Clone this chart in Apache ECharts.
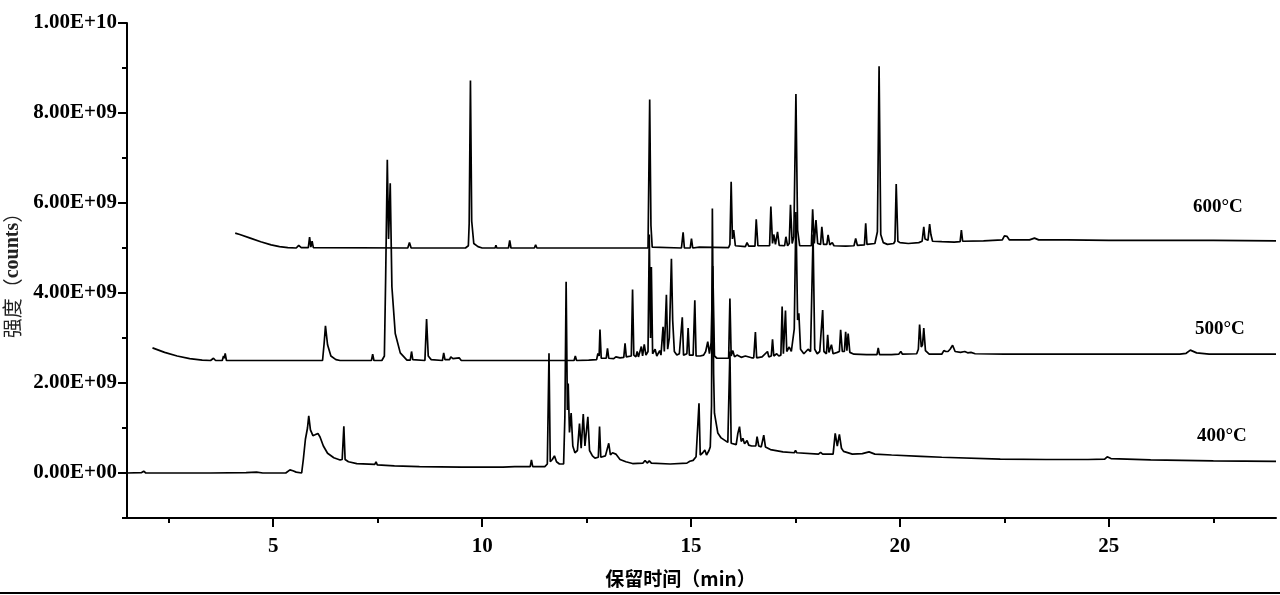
<!DOCTYPE html>
<html>
<head>
<meta charset="utf-8">
<title>GC-MS chromatogram</title>
<script src="https://cdn.jsdelivr.net/npm/echarts@6/dist/echarts.min.js"></script>
<style>
  html, body { margin: 0; padding: 0; background: #fff; }
  #chart { width: 1280px; height: 595px; }
</style>
</head>
<body>
<div id="chart"></div>
<script>
// retention time (min), intensity (counts)
const trace600 = [
  [4.09, 5.33e9], [4.2, 5.30e9], [4.45, 5.22e9], [4.7, 5.14e9], [4.95, 5.07e9], [5.15, 5.03e9],
  [5.35, 5.01e9], [5.55, 5.00e9], [5.61, 5.06e9], [5.67, 5.01e9], [5.84, 5.01e9], [5.87, 5.24e9],
  [5.9, 5.02e9], [5.93, 5.15e9], [5.96, 5.01e9], [8.22, 5.0e9], [8.26, 5.12e9], [8.3, 5.0e9],
  [9.6, 5.0e9], [9.67, 5.05e9], [9.69, 5.55e9], [9.72, 8.72e9], [9.75, 5.6e9], [9.8, 5.1e9],
  [9.9, 5.03e9], [10.0, 5.0e9], [10.31, 5.0e9], [10.33, 5.06e9], [10.35, 5.0e9], [10.63, 5.0e9],
  [10.66, 5.17e9], [10.69, 5.0e9], [11.25, 5.0e9], [11.28, 5.07e9], [11.31, 5.0e9], [13.97, 5.0e9],
  [14.01, 8.30e9], [14.04, 5.5e9], [14.07, 5.02e9], [14.77, 5.0e9], [14.81, 5.35e9], [14.84, 5.0e9],
  [14.98, 5.0e9], [15.01, 5.21e9], [15.04, 5.0e9], [15.2, 5.02e9], [15.9, 5.01e9], [15.93, 5.08e9],
  [15.96, 6.47e9], [15.99, 5.2e9], [16.02, 5.4e9], [16.06, 5.05e9], [16.3, 5.03e9], [16.34, 5.12e9],
  [16.38, 5.04e9], [16.53, 5.04e9], [16.56, 5.64e9], [16.6, 5.05e9], [16.88, 5.05e9], [16.91, 5.92e9],
  [16.95, 5.1e9], [16.98, 5.3e9], [17.02, 5.08e9], [17.07, 5.36e9], [17.11, 5.06e9], [17.24, 5.05e9],
  [17.27, 5.25e9], [17.31, 5.05e9], [17.35, 5.1e9], [17.38, 5.96e9], [17.42, 5.1e9], [17.46, 5.25e9],
  [17.51, 8.42e9], [17.55, 5.4e9], [17.6, 5.05e9], [17.88, 5.05e9], [17.91, 5.86e9], [17.95, 5.1e9],
  [17.99, 5.62e9], [18.03, 5.1e9], [18.1, 5.08e9], [18.13, 5.47e9], [18.17, 5.08e9], [18.25, 5.08e9],
  [18.28, 5.29e9], [18.32, 5.07e9], [18.38, 5.12e9], [18.42, 5.05e9], [18.7, 5.04e9], [18.9, 5.05e9],
  [18.94, 5.21e9], [18.98, 5.06e9], [19.15, 5.07e9], [19.18, 5.55e9], [19.21, 5.08e9], [19.4, 5.1e9],
  [19.46, 5.36e9], [19.5, 9.04e9], [19.54, 5.3e9], [19.6, 5.12e9], [19.7, 5.08e9], [19.85, 5.1e9],
  [19.88, 5.15e9], [19.91, 6.42e9], [19.95, 5.15e9], [20.0, 5.12e9], [20.2, 5.1e9], [20.45, 5.12e9],
  [20.53, 5.15e9], [20.57, 5.47e9], [20.6, 5.2e9], [20.67, 5.17e9], [20.71, 5.53e9], [20.74, 5.3e9],
  [20.78, 5.15e9], [21.0, 5.14e9], [21.3, 5.13e9], [21.44, 5.14e9], [21.47, 5.4e9], [21.5, 5.15e9],
  [22.0, 5.16e9], [22.45, 5.18e9], [22.5, 5.27e9], [22.56, 5.26e9], [22.62, 5.18e9], [23.1, 5.18e9],
  [23.22, 5.22e9], [23.32, 5.18e9], [24.0, 5.18e9], [25.0, 5.17e9], [27.5, 5.17e9], [27.52, 5.19e9],
  [27.54, 5.17e9], [29.0, 5.16e9]
]

const trace500 = [
  [2.11, 2.78e9], [2.4, 2.68e9], [2.7, 2.60e9], [3.0, 2.54e9], [3.3, 2.51e9], [3.5, 2.50e9],
  [3.57, 2.55e9], [3.62, 2.50e9], [3.78, 2.5e9], [3.81, 2.6e9], [3.83, 2.55e9], [3.85, 2.66e9],
  [3.88, 2.5e9], [6.18, 2.5e9], [6.22, 2.9e9], [6.25, 3.27e9], [6.3, 2.85e9], [6.38, 2.6e9],
  [6.5, 2.52e9], [6.6, 2.5e9], [7.35, 2.5e9], [7.38, 2.64e9], [7.41, 2.5e9], [7.6, 2.5e9],
  [7.66, 2.6e9], [7.69, 4.3e9], [7.73, 6.96e9], [7.76, 5.2e9], [7.8, 6.44e9], [7.84, 4.14e9],
  [7.92, 3.10e9], [8.04, 2.67e9], [8.2, 2.51e9], [8.28, 2.51e9], [8.31, 2.70e9], [8.34, 2.52e9],
  [8.63, 2.5e9], [8.67, 3.42e9], [8.71, 2.6e9], [8.78, 2.52e9], [9.05, 2.5e9], [9.08, 2.67e9],
  [9.11, 2.52e9], [9.22, 2.52e9], [9.25, 2.58e9], [9.3, 2.54e9], [9.45, 2.56e9], [9.5, 2.5e9],
  [10.4, 2.5e9], [10.42, 2.54e9], [10.44, 2.5e9], [11.0, 2.5e9], [11.5, 2.5e9], [12.2, 2.5e9],
  [12.23, 2.60e9], [12.26, 2.5e9], [12.55, 2.51e9], [12.74, 2.52e9], [12.77, 2.66e9], [12.8, 2.6e9],
  [12.82, 3.19e9], [12.85, 2.55e9], [12.97, 2.55e9], [13.0, 2.77e9], [13.03, 2.55e9], [13.15, 2.54e9],
  [13.2, 2.58e9], [13.3, 2.56e9], [13.39, 2.57e9], [13.42, 2.88e9], [13.45, 2.58e9], [13.57, 2.6e9],
  [13.6, 4.08e9], [13.63, 2.62e9], [13.68, 2.58e9], [13.71, 2.70e9], [13.74, 2.58e9], [13.81, 2.81e9],
  [13.84, 2.6e9], [13.88, 2.86e9], [13.92, 2.62e9], [13.97, 2.7e9], [14.0, 5.3e9], [14.03, 3.0e9],
  [14.05, 4.58e9], [14.08, 2.65e9], [14.14, 2.75e9], [14.18, 2.6e9], [14.25, 2.72e9], [14.28, 2.62e9],
  [14.33, 3.25e9], [14.36, 2.7e9], [14.41, 3.96e9], [14.44, 2.75e9], [14.48, 3.0e9], [14.53, 4.76e9],
  [14.56, 3.4e9], [14.6, 2.7e9], [14.66, 2.62e9], [14.72, 2.65e9], [14.79, 3.46e9], [14.82, 2.62e9],
  [14.9, 2.65e9], [14.93, 3.22e9], [14.96, 2.62e9], [15.05, 2.62e9], [15.09, 3.84e9], [15.12, 2.6e9],
  [15.22, 2.6e9], [15.3, 2.62e9], [15.35, 2.7e9], [15.4, 2.92e9], [15.44, 2.65e9], [15.48, 2.9e9],
  [15.52, 4.6e9], [15.56, 2.6e9], [15.62, 2.55e9], [15.8, 2.55e9], [15.9, 2.55e9], [15.93, 3.88e9],
  [15.96, 2.6e9], [16.0, 2.72e9], [16.04, 2.58e9], [16.1, 2.62e9], [16.2, 2.57e9], [16.3, 2.6e9],
  [16.45, 2.56e9], [16.5, 2.56e9], [16.54, 3.13e9], [16.57, 2.56e9], [16.7, 2.58e9], [16.83, 2.7e9],
  [16.86, 2.58e9], [16.92, 2.6e9], [16.95, 2.97e9], [16.98, 2.6e9], [17.05, 2.65e9], [17.1, 2.6e9],
  [17.15, 2.62e9], [17.18, 3.70e9], [17.21, 2.65e9], [17.26, 3.61e9], [17.29, 2.7e9], [17.35, 2.8e9],
  [17.4, 2.7e9], [17.47, 3.2e9], [17.51, 5.8e9], [17.55, 3.4e9], [17.58, 3.55e9], [17.62, 2.75e9],
  [17.7, 2.65e9], [17.8, 2.75e9], [17.86, 2.7e9], [17.92, 5.3e9], [17.96, 2.75e9], [18.02, 2.65e9],
  [18.08, 2.7e9], [18.15, 3.62e9], [18.18, 2.7e9], [18.24, 2.65e9], [18.27, 3.07e9], [18.3, 2.68e9],
  [18.36, 2.85e9], [18.4, 2.65e9], [18.5, 2.68e9], [18.55, 2.7e9], [18.58, 3.18e9], [18.62, 2.7e9],
  [18.67, 2.7e9], [18.7, 3.14e9], [18.73, 2.72e9], [18.76, 3.1e9], [18.8, 2.68e9], [18.9, 2.64e9],
  [19.2, 2.63e9], [19.45, 2.63e9], [19.48, 2.78e9], [19.51, 2.63e9], [19.8, 2.63e9], [19.97, 2.64e9],
  [20.02, 2.7e9], [20.06, 2.64e9], [20.4, 2.65e9], [20.44, 2.75e9], [20.47, 3.3e9], [20.51, 2.8e9],
  [20.54, 2.85e9], [20.57, 3.22e9], [20.61, 2.72e9], [20.7, 2.64e9], [21.0, 2.64e9], [21.05, 2.72e9],
  [21.1, 2.7e9], [21.15, 2.7e9], [21.2, 2.75e9], [21.26, 2.84e9], [21.32, 2.7e9], [21.45, 2.68e9],
  [21.55, 2.7e9], [21.62, 2.67e9], [21.7, 2.68e9], [21.8, 2.65e9], [22.5, 2.64e9], [24.0, 2.64e9],
  [25.5, 2.64e9], [26.7, 2.64e9], [26.85, 2.66e9], [26.95, 2.73e9], [27.1, 2.67e9], [27.4, 2.64e9],
  [28.5, 2.64e9], [28.85, 2.64e9], [28.88, 2.66e9], [29.0, 2.64e9]
]

const trace400 = [
  [1.5, 0], [1.85, 0.01e9], [1.9, 0.04e9], [1.95, 0], [3.5, 0], [4.35, 0.01e9], [4.6, 0.02e9],
  [4.75, 0], [5.3, 0], [5.4, 0.07e9], [5.47, 0.05e9], [5.55, 0.02e9], [5.68, 0], [5.72, 0.3e9],
  [5.77, 0.75e9], [5.82, 1.0e9], [5.85, 1.27e9], [5.89, 0.96e9], [5.95, 0.83e9], [6.0, 0.85e9],
  [6.07, 0.88e9], [6.12, 0.8e9], [6.2, 0.6e9], [6.3, 0.44e9], [6.45, 0.34e9], [6.6, 0.29e9],
  [6.65, 0.3e9], [6.69, 1.04e9], [6.72, 0.3e9], [6.8, 0.25e9], [7.0, 0.21e9], [7.43, 0.19e9],
  [7.46, 0.25e9], [7.49, 0.18e9], [7.9, 0.16e9], [8.5, 0.14e9], [9.5, 0.13e9], [10.5, 0.13e9],
  [10.78, 0.14e9], [10.82, 0.18e9], [10.86, 0.14e9], [11.15, 0.14e9], [11.18, 0.29e9], [11.21, 0.14e9],
  [11.5, 0.14e9], [11.56, 0.2e9], [11.6, 2.66e9], [11.63, 0.25e9], [11.68, 0.3e9], [11.73, 0.38e9],
  [11.78, 0.25e9], [11.85, 0.2e9], [11.95, 0.2e9], [11.98, 1.25e9], [12.01, 4.25e9], [12.04, 1.4e9],
  [12.06, 1.99e9], [12.09, 0.9e9], [12.13, 1.33e9], [12.17, 0.6e9], [12.22, 0.45e9], [12.28, 0.5e9],
  [12.33, 1.10e9], [12.37, 0.55e9], [12.42, 1.31e9], [12.46, 0.6e9], [12.53, 1.25e9], [12.57, 0.5e9],
  [12.64, 0.38e9], [12.7, 0.33e9], [12.78, 0.35e9], [12.81, 1.03e9], [12.84, 0.35e9], [12.95, 0.38e9],
  [13.03, 0.66e9], [13.07, 0.4e9], [13.12, 0.45e9], [13.2, 0.42e9], [13.3, 0.3e9], [13.44, 0.25e9],
  [13.6, 0.21e9], [13.85, 0.22e9], [13.9, 0.28e9], [13.95, 0.22e9], [14.0, 0.27e9], [14.05, 0.22e9],
  [14.5, 0.2e9], [14.9, 0.22e9], [14.97, 0.26e9], [15.05, 0.28e9], [15.12, 0.36e9], [15.16, 0.4e9],
  [15.19, 1.55e9], [15.22, 0.4e9], [15.28, 0.45e9], [15.33, 0.51e9], [15.37, 0.4e9], [15.43, 0.5e9],
  [15.46, 0.58e9], [15.49, 1.5e9], [15.51, 5.88e9], [15.54, 2.2e9], [15.56, 1.33e9], [15.64, 0.89e9],
  [15.72, 0.78e9], [15.8, 0.73e9], [15.88, 0.68e9], [15.93, 2.7e9], [15.96, 0.66e9], [16.0, 0.62e9],
  [16.08, 0.63e9], [16.12, 0.88e9], [16.16, 1.03e9], [16.2, 0.7e9], [16.24, 0.77e9], [16.28, 0.65e9],
  [16.34, 0.72e9], [16.38, 0.62e9], [16.45, 0.6e9], [16.55, 0.6e9], [16.58, 0.81e9], [16.62, 0.6e9],
  [16.68, 0.58e9], [16.74, 0.84e9], [16.78, 0.58e9], [16.9, 0.52e9], [17.2, 0.47e9], [17.47, 0.45e9],
  [17.5, 0.5e9], [17.53, 0.45e9], [18.05, 0.42e9], [18.1, 0.46e9], [18.15, 0.42e9], [18.4, 0.42e9],
  [18.45, 0.88e9], [18.5, 0.6e9], [18.55, 0.86e9], [18.6, 0.55e9], [18.65, 0.48e9], [18.86, 0.42e9],
  [19.1, 0.43e9], [19.26, 0.47e9], [19.4, 0.42e9], [19.8, 0.4e9], [20.5, 0.37e9], [21.0, 0.35e9],
  [22.4, 0.31e9], [23.5, 0.3e9], [24.5, 0.3e9], [24.9, 0.31e9], [24.96, 0.36e9], [25.05, 0.32e9],
  [26.0, 0.29e9], [27.5, 0.27e9], [29.0, 0.26e9]
]

const seriesNames = ['600°C', '500°C', '400°C']
const xMajorTicks = [5, 10, 15, 20, 25]
const xMinorTicks = [2.5, 7.5, 12.5, 17.5, 22.5, 27.5]
const yMajorTicks = [0, 2e9, 4e9, 6e9, 8e9, 1e10]
const yMinorTicks = [-1e9, 1e9, 3e9, 5e9, 7e9, 9e9]

const serif = '"Liberation Serif", "Times New Roman", serif'
const cjk = '"Noto Sans CJK SC", sans-serif'

function sci(v) {
  const parts = v.toExponential(2).split('e')
  const e = parts[1]
  return parts[0] + 'E' + e[0] + e.slice(1).padStart(2, '0')
}

const chart = echarts.init(document.getElementById('chart'), null, { renderer: 'canvas' })

const axisLine = { show: true, onZero: false, lineStyle: { color: '#000', width: 2 } }

chart.setOption({
  animation: false,
  backgroundColor: '#fff',
  grid: { left: 127, right: 4, top: 23, bottom: 77, containLabel: false, outerBoundsMode: 'none' },
  xAxis: [{
    type: 'value',
    min: 1.5,
    max: 29,
    axisLine: axisLine,
    axisTick: { show: true, customValues: xMajorTicks, length: 9, lineStyle: { color: '#000', width: 2 } },
    axisLabel: {
      customValues: xMajorTicks, margin: 18, color: '#000',
      fontFamily: serif, fontWeight: 'bold', fontSize: 21
    },
    splitLine: { show: false },
    name: '保留时间（min）',
    nameLocation: 'middle',
    nameGap: 51,
    nameTextStyle: { color: '#000', fontFamily: cjk, fontSize: 19, fontWeight: 'bold', padding: [0, 42, 0, 0] }
  }, {
    type: 'value',
    min: 1.5,
    max: 29,
    position: 'bottom',
    axisLine: { show: false, onZero: false },
    axisTick: { show: true, customValues: xMinorTicks, length: 5, lineStyle: { color: '#000', width: 2 } },
    axisLabel: { show: false },
    splitLine: { show: false }
  }],
  yAxis: [{
    type: 'value',
    min: -1e9,
    max: 1e10,
    axisLine: axisLine,
    axisTick: { show: true, customValues: yMajorTicks, length: 9, lineStyle: { color: '#000', width: 2 } },
    axisLabel: {
      customValues: yMajorTicks, margin: 10, color: '#000',
      fontFamily: serif, fontWeight: 'bold', fontSize: 21,
      formatter: sci
    },
    splitLine: { show: false },
    name: '{a|强度（}{b|counts}{a|）}',
    nameLocation: 'middle',
    nameGap: 100,
    nameTextStyle: {
      rich: {
        a: { fontFamily: cjk, fontSize: 20, color: '#222' },
        b: { fontFamily: serif, fontSize: 20, fontWeight: 'bold', color: '#222' }
      }
    }
  }, {
    type: 'value',
    min: -1e9,
    max: 1e10,
    position: 'left',
    axisLine: { show: false, onZero: false },
    axisTick: { show: true, customValues: yMinorTicks, length: 5, lineStyle: { color: '#000', width: 2 } },
    axisLabel: { show: false },
    splitLine: { show: false }
  }],
  series: [trace600, trace500, trace400].map((d, i) => ({
    name: seriesNames[i],
    type: 'line',
    data: d,
    xAxisIndex: 0,
    yAxisIndex: 0,
    showSymbol: false,
    symbol: 'none',
    lineStyle: { color: '#000', width: 1.7 },
    z: 3 - i
  })),
  graphic: [
    { type: 'text', left: 1193, top: 198, style: { text: seriesNames[0], font: 'bold 19px ' + serif, fill: '#000' } },
    { type: 'text', left: 1195, top: 320, style: { text: seriesNames[1], font: 'bold 19px ' + serif, fill: '#000' } },
    { type: 'text', left: 1197, top: 427, style: { text: seriesNames[2], font: 'bold 19px ' + serif, fill: '#000' } },
    { type: 'rect', left: 0, top: 592, shape: { width: 1280, height: 2 }, style: { fill: '#000' } }
  ]
})
</script>
</body>
</html>
